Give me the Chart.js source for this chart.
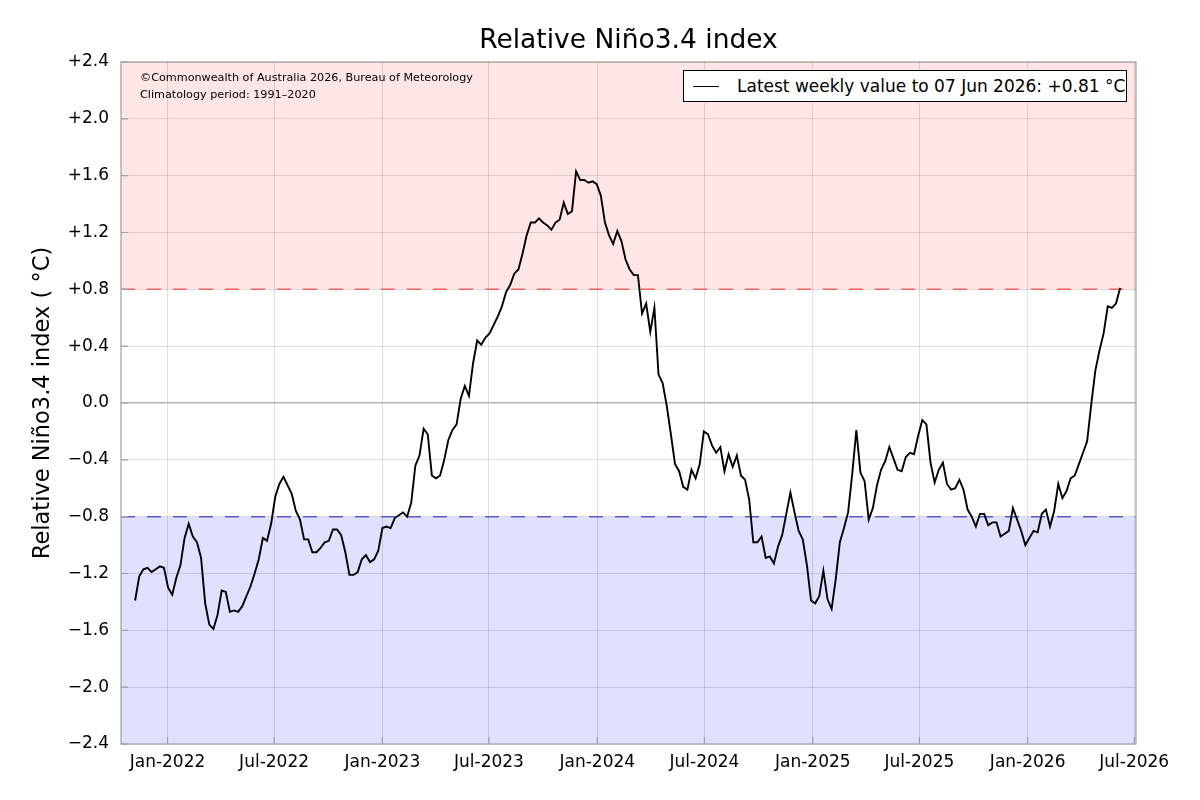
<!DOCTYPE html>
<html>
<head>
<meta charset="utf-8">
<title>Relative Niño3.4 index</title>
<script src="https://cdn.jsdelivr.net/npm/chart.js@4.4.1/dist/chart.umd.min.js"></script>
<style>
    html, body { margin: 0; padding: 0; background: #fff; }
    #contenedor { position: relative; width: 1200px; height: 800px; font-family: "DejaVu Sans", sans-serif; color: #000; }
    #grafica { position: absolute; left: 0; top: 0; }
    .nota { position: absolute; left: 140px; top: 70px; font-size: 11.2px; line-height: 16.7px; white-space: nowrap; }
    .leyenda { position: absolute; left: 683px; top: 70px; width: 444px; height: 32px; box-sizing: border-box;
               border: 1px solid #000; background: #fff; font-size: 17px; display: flex; align-items: center; white-space: nowrap; }
    .leyenda .muestra { display: inline-block; width: 26px; border-top: 1.8px solid #000; margin-left: 9px; margin-right: 18px; }
</style>
</head>
<body>
<div id="contenedor">
    <canvas id="grafica" width="1200" height="800"></canvas>
    <div class="nota">©Commonwealth of Australia 2026, Bureau of Meteorology<br>Climatology period: 1991–2020</div>
    <div class="leyenda"><span class="muestra"></span>Latest weekly value to 07 Jun 2026: +0.81 °C</div>
</div>
<script>
// Serie semanal (domingos) desde la primera semana
const semanaInicial = "2021-11-07";
const indice = [
    -1.39, -1.22, -1.17, -1.16, -1.19, -1.17, -1.15, -1.16, -1.30, -1.35,
    -1.23, -1.14, -0.95, -0.85, -0.94, -0.98, -1.09, -1.41, -1.56, -1.59,
    -1.49, -1.32, -1.33, -1.47, -1.46, -1.47, -1.43, -1.36, -1.29, -1.20,
    -1.10, -0.95, -0.97, -0.85, -0.66, -0.57, -0.52, -0.58, -0.64, -0.76,
    -0.82, -0.96, -0.96, -1.05, -1.05, -1.02, -0.98, -0.97, -0.89, -0.89,
    -0.93, -1.05, -1.21, -1.21, -1.19, -1.10, -1.07, -1.12, -1.10, -1.04,
    -0.88, -0.87, -0.88, -0.81, -0.79, -0.77, -0.80, -0.70, -0.44, -0.37,
    -0.18, -0.22, -0.51, -0.53, -0.51, -0.40, -0.26, -0.19, -0.15, 0.03,
    0.12, 0.05, 0.28, 0.44, 0.41, 0.46, 0.49, 0.55, 0.61, 0.68,
    0.78, 0.83, 0.91, 0.94, 1.05, 1.18, 1.27, 1.27, 1.30, 1.27,
    1.25, 1.22, 1.27, 1.29, 1.41, 1.33, 1.35, 1.63, 1.57, 1.57,
    1.55, 1.56, 1.54, 1.46, 1.27, 1.18, 1.12, 1.21, 1.14, 1.01,
    0.94, 0.90, 0.90, 0.63, 0.70, 0.50, 0.67, 0.20, 0.14, -0.02,
    -0.22, -0.43, -0.48, -0.59, -0.61, -0.47, -0.53, -0.43, -0.20, -0.22,
    -0.30, -0.35, -0.31, -0.48, -0.36, -0.45, -0.37, -0.51, -0.54, -0.68,
    -0.98, -0.98, -0.94, -1.09, -1.08, -1.13, -1.01, -0.93, -0.78, -0.63,
    -0.77, -0.90, -0.96, -1.14, -1.39, -1.41, -1.36, -1.18, -1.38, -1.45,
    -1.24, -0.98, -0.88, -0.77, -0.50, -0.19, -0.49, -0.55, -0.82, -0.74,
    -0.58, -0.47, -0.41, -0.31, -0.39, -0.47, -0.48, -0.38, -0.35, -0.36,
    -0.23, -0.12, -0.15, -0.42, -0.56, -0.47, -0.42, -0.57, -0.61, -0.60,
    -0.54, -0.61, -0.75, -0.80, -0.87, -0.78, -0.78, -0.86, -0.84, -0.84,
    -0.94, -0.92, -0.90, -0.74, -0.82, -0.90, -1.00, -0.95, -0.90, -0.91,
    -0.78, -0.75, -0.87, -0.76, -0.57, -0.67, -0.62, -0.53, -0.51, -0.43,
    -0.35, -0.27, -0.01, 0.23, 0.37, 0.49, 0.68, 0.67, 0.70, 0.81
];

// Ejes
const fechasTicksX = ["2022-01-01", "2022-07-01", "2023-01-01", "2023-07-01", "2024-01-01",
                      "2024-07-01", "2025-01-01", "2025-07-01", "2026-01-01", "2026-07-01"];
const etiquetasX = ["Jan-2022", "Jul-2022", "Jan-2023", "Jul-2023", "Jan-2024",
                    "Jul-2024", "Jan-2025", "Jul-2025", "Jan-2026", "Jul-2026"];
const ticksY = [-2.4, -2.0, -1.6, -1.2, -0.8, -0.4, 0, 0.4, 0.8, 1.2, 1.6, 2.0, 2.4];
const inicioEje = "2021-10-14";
const finEje = "2026-07-04";

// Umbrales El Niño / La Niña
const umbralNino = 0.8;
const umbralNina = -0.8;

// días desde 1 ene 2022
function dia(fecha) {
    return (Date.parse(fecha + "T00:00:00Z") - Date.parse("2022-01-01T00:00:00Z")) / 864e5;
}

function formatoY(v) {
    if (Math.abs(v) < 1e-9) return "0.0";
    return (v > 0 ? "+" : "\u2212") + Math.abs(v).toFixed(1);
}

const puntos = indice.map((v, i) => ({ x: dia(semanaInicial) + 7 * i, y: v }));
const etiquetaPorDia = {};
fechasTicksX.forEach((f, i) => etiquetaPorDia[dia(f)] = etiquetasX[i]);

// Bandas, líneas de umbral y marco
const fondoEnso = {
    id: "fondoEnso",
    beforeDraw(chart) {
        const { ctx, chartArea: a, scales: { y } } = chart;
        const yNino = y.getPixelForValue(umbralNino);
        const yNina = y.getPixelForValue(umbralNina);
        ctx.save();
        ctx.fillStyle = "#ffe6e6";
        ctx.fillRect(a.left, a.top, a.width, yNino - a.top);
        ctx.fillStyle = "#e0e0ff";
        ctx.fillRect(a.left, yNina, a.width, a.bottom - yNina);
        ctx.restore();
    },
    beforeDatasetsDraw(chart) {
        const { ctx, chartArea: a, scales: { y } } = chart;
        ctx.save();
        ctx.lineWidth = 1.5;
        ctx.setLineDash([14, 12]);
        [[umbralNino, "#e86464"], [umbralNina, "#5a5ac4"]].forEach(([v, color]) => {
            const py = y.getPixelForValue(v);
            ctx.strokeStyle = color;
            ctx.beginPath();
            ctx.moveTo(a.left, py);
            ctx.lineTo(a.right, py);
            ctx.stroke();
        });
        ctx.restore();
    },
    afterDraw(chart) {
        const { ctx, chartArea: a, scales: { x, y } } = chart;
        ctx.save();
        ctx.strokeStyle = "#a0a0a0";
        ctx.lineWidth = 1.2;
        ctx.strokeRect(a.left, a.top, a.width, a.height);
        ctx.beginPath();
        x.ticks.forEach(t => {
            const px = x.getPixelForValue(t.value);
            ctx.moveTo(px, a.bottom);
            ctx.lineTo(px, a.bottom - 7);
        });
        y.ticks.forEach(t => {
            const py = y.getPixelForValue(t.value);
            ctx.moveTo(a.left, py);
            ctx.lineTo(a.left + 7, py);
        });
        ctx.stroke();
        ctx.restore();
    }
};

Chart.defaults.font.family = "'DejaVu Sans', sans-serif";
Chart.defaults.color = "#000";

new Chart(document.getElementById("grafica"), {
    type: "line",
    data: {
        datasets: [{
            label: "Latest weekly value to 07 Jun 2026: +0.81 °C",
            data: puntos,
            borderColor: "#000",
            borderWidth: 1.9,
            pointRadius: 0,
            tension: 0,
            fill: false
        }]
    },
    options: {
        responsive: false,
        animation: false,
        layout: { padding: { left: 0, right: 64, top: 0, bottom: 0 } },
        plugins: {
            legend: { display: false },
            tooltip: { enabled: false }
        },
        scales: {
            x: {
                type: "linear",
                min: dia(inicioEje),
                max: dia(finEje),
                afterBuildTicks: s => { s.ticks = fechasTicksX.map(f => ({ value: dia(f) })); },
                afterFit: s => { s.height = 56; },
                grid: { color: "rgba(0,0,0,0.12)", drawTicks: false },
                border: { display: false },
                ticks: {
                    autoSkip: false,
                    maxRotation: 0,
                    padding: 8,
                    font: { size: 17 },
                    callback: v => etiquetaPorDia[v] || ""
                }
            },
            // eje superior solo para el título, centrado sobre el área de la gráfica
            arriba: {
                type: "linear",
                position: "top",
                min: dia(inicioEje),
                max: dia(finEje),
                afterFit: s => { s.height = 62; },
                grid: { display: false },
                border: { display: false },
                ticks: { display: false },
                title: {
                    display: true,
                    text: "Relative Niño3.4 index",
                    color: "#000",
                    font: { size: 26.5 },
                    padding: { top: 25, bottom: 0 }
                }
            },
            y: {
                min: -2.4,
                max: 2.4,
                afterBuildTicks: s => { s.ticks = ticksY.map(v => ({ value: v })); },
                afterFit: s => { s.width = 121; },
                grid: {
                    drawTicks: false,
                    color: c => c.tick && c.tick.value === 0 ? "#b4b4b4" : "rgba(0,0,0,0.12)",
                    lineWidth: c => c.tick && c.tick.value === 0 ? 1.6 : 1
                },
                border: { display: false },
                ticks: {
                    padding: 12,
                    font: { size: 17 },
                    callback: v => formatoY(v)
                },
                title: {
                    display: true,
                    text: "Relative Niño3.4 index ( °C)",
                    color: "#000",
                    font: { size: 22.5 },
                    padding: { top: 30, bottom: 0 }
                }
            }
        }
    },
    plugins: [fondoEnso]
});
</script>
</body>
</html>
